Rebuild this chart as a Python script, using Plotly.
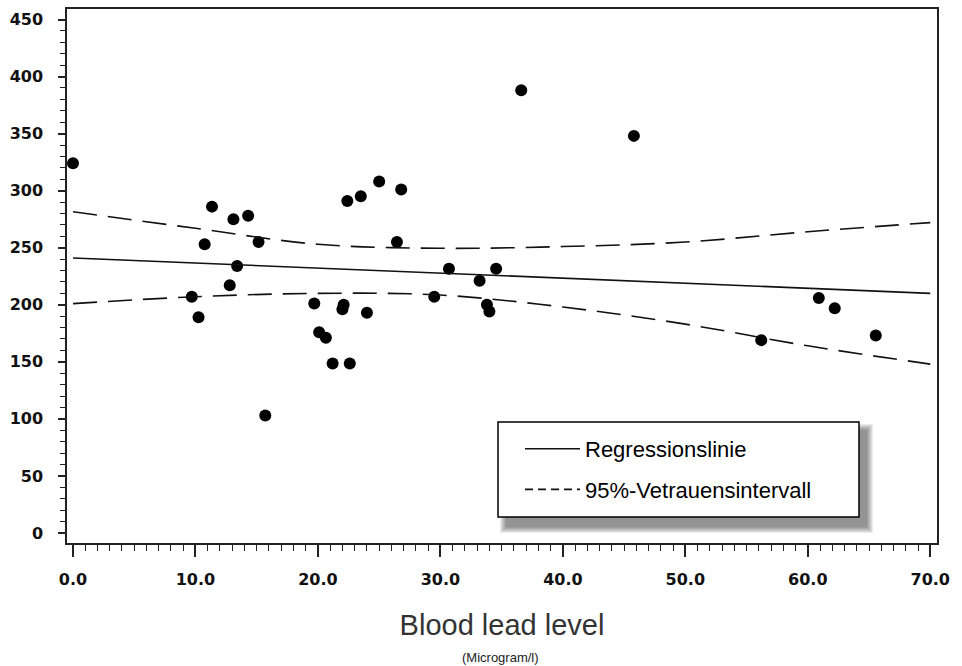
import plotly.graph_objects as go

# ---------------- data ----------------
lead_x = [0.0, 9.7, 10.25, 10.75, 11.35, 12.8, 13.1, 13.4, 14.3, 15.15, 15.7,
          19.7, 20.1, 20.65, 21.2, 22.0, 22.1, 22.4, 22.6, 23.5, 24.0, 25.0,
          26.45, 26.8, 29.5, 30.7, 33.2, 33.8, 34.0, 34.55, 36.6, 45.8,
          56.2, 60.9, 62.2, 65.55]
value_y = [324, 207, 189, 253, 286, 217, 275, 234, 278, 255, 103,
           201, 176, 171, 148.5, 196, 200, 291, 148.5, 295, 193, 308,
           255, 301, 207, 231.5, 221, 200, 194, 231.5, 388, 348,
           169, 206, 197, 173]

reg_x = [0, 70]
reg_y = [241, 210]

ci_x = [0, 10, 20, 30, 40, 50, 60, 70]
ci_upper = [281.5, 267, 253, 249.5, 251, 255, 264, 272]
ci_lower = [201, 207, 210, 208.5, 198, 183, 164, 148]

x_ticks = [0, 10, 20, 30, 40, 50, 60, 70]
x_ticklabels = ["0.0", "10.0", "20.0", "30.0", "40.0", "50.0", "60.0", "70.0"]
y_ticks = [0, 50, 100, 150, 200, 250, 300, 350, 400, 450]

legend_names = ["Regressionslinie", "95%-Vetrauensintervall"]

# ---------------- layout geometry ----------------
W, H = 962, 666
L, R, T, B = 67, 25, 9, 123
PW, PH = W - L - R, H - T - B


def px(xp):
    return (xp - L) / PW


def py(yp):
    return (H - B - yp) / PH


fig = go.Figure()

fig.add_trace(go.Scatter(
    x=lead_x, y=value_y, mode="markers", showlegend=False,
    marker=dict(color="black", size=12, line=dict(width=0)),
    cliponaxis=False))

fig.add_trace(go.Scatter(
    x=reg_x, y=reg_y, mode="lines", name=legend_names[0], legendgroup="g1",
    line=dict(color="#111111", width=1.6)))

fig.add_trace(go.Scatter(
    x=ci_x + [None] + ci_x, y=ci_upper + [None] + ci_lower, mode="lines",
    showlegend=False, connectgaps=False, legendgroup="g3",
    line=dict(color="#111111", width=1.6, dash="24px,11px", shape="spline")))

fig.add_trace(go.Scatter(
    x=[None], y=[None], mode="lines", name=legend_names[1], legendgroup="g2",
    line=dict(color="#111111", width=1.6, dash="8px,5px")))

# legend box with soft shadow
shapes = []
bx0, bx1, by0, by1 = 498, 859, 422, 517
for i in range(7):
    g = 7 - i
    shapes.append(dict(type="rect", xref="paper", yref="paper", layer="above",
                       x0=px(bx0 + 9 - g), x1=px(bx1 + 7 + g),
                       y0=py(by1 + 9 + g), y1=py(by0 + 9 - g),
                       line=dict(width=0), fillcolor="rgba(0,0,0,0.075)"))
shapes.append(dict(type="rect", xref="paper", yref="paper", layer="above",
                   x0=px(bx0), x1=px(bx1), y0=py(by1), y1=py(by0),
                   line=dict(color="black", width=1.5), fillcolor="white"))

tickfont = dict(family="DejaVu Sans", size=16, color="#111111", weight="bold")

fig.update_layout(
    width=W, height=H,
    margin=dict(l=L, r=R, t=T, b=B, autoexpand=False),
    paper_bgcolor="white", plot_bgcolor="white",
    shapes=shapes,
    showlegend=True,
    legend=dict(x=px(520), y=py(428), xanchor="left", yanchor="top",
                bgcolor="rgba(0,0,0,0)", borderwidth=0,
                font=dict(family="Liberation Sans", size=22, color="black"),
                itemwidth=55, tracegroupgap=9, traceorder="grouped"),
    xaxis=dict(range=[-0.49, 70.55], tickmode="array", tickvals=x_ticks,
               ticktext=x_ticklabels, ticks="outside", ticklen=12, tickwidth=1.5,
               tickcolor="#222", tickfont=tickfont, ticklabelstandoff=9,
               minor=dict(tickvals=list(range(0, 71)), ticks="outside", ticklen=6,
                          tickwidth=1.3, tickcolor="#222"),
               showline=True, linecolor="#222", linewidth=1.5, mirror=True,
               showgrid=False, zeroline=False,
               title=dict(text="Blood lead level", standoff=27,
                          font=dict(family="Liberation Sans", size=29, color="#333"))),
    yaxis=dict(range=[-8.8, 459.2], tickmode="array", tickvals=y_ticks,
               ticks="outside", ticklen=7, tickwidth=1.5, tickcolor="#222",
               tickfont=tickfont, ticklabelstandoff=12,
               minor=dict(tickvals=list(range(0, 451, 10)), ticks="outside",
                          ticklen=5, tickwidth=1.3, tickcolor="#222"),
               showline=True, linecolor="#222", linewidth=1.5, mirror=True,
               showgrid=False, zeroline=False),
    annotations=[dict(text="(Microgram/l)", xref="paper", yref="paper",
                      x=px(500), y=py(657), xanchor="center", yanchor="middle",
                      showarrow=False,
                      font=dict(family="Liberation Sans", size=13, color="#222"))],
)

fig.write_html("out.html")
